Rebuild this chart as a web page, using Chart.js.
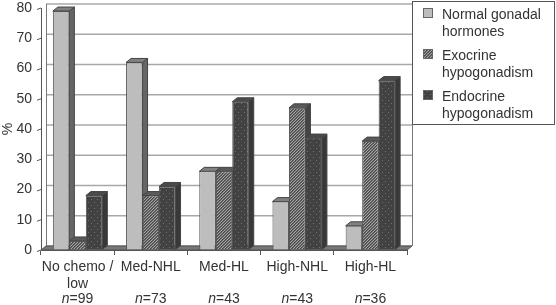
<!DOCTYPE html>
<html lang="en">
<head>
    <meta charset="UTF-8">
    <title>Gonadal function by treatment group</title>
    <script src="https://cdn.jsdelivr.net/npm/chart.js"></script>
    <style>
        body { margin: 0; background: #fff; }
        canvas { display: block; }
    </style>
</head>
<body>
    <canvas id="chart" width="556" height="305"></canvas>

    <script>
        const categories = [['No chemo /', 'low'], 'Med-NHL', 'Med-HL', 'High-NHL', 'High-HL'];
        const sampleSizes = [99, 73, 43, 43, 36];
        const normal = [79, 62, 26, 16, 8];
        const exocrine = [3, 18, 26, 47, 36];
        const endocrine = [18, 21, 49, 37, 56];
        const legendLabels = [
            ['Normal gonadal', 'hormones'],
            ['Exocrine', 'hypogonadism'],
            ['Endocrine', 'hypogonadism'],
        ];

        const FAMILY = '"Liberation Sans", Arial, sans-serif';
        const FONT = '14px ' + FAMILY;
        const TEXT = '#333';
        const DX = 5, DY = 4; // depth of the fake 3d

        function tile(size, draw) {
            const c = document.createElement('canvas');
            c.width = c.height = size;
            draw(c.getContext('2d'));
            return c.getContext('2d').createPattern(c, 'repeat');
        }

        const hatch = tile(3, g => {
            g.fillStyle = '#a6a6a6';
            g.fillRect(0, 0, 3, 3);
            g.fillStyle = '#4a4a4a';
            [[2, 0], [1, 1], [0, 2]].forEach(p => g.fillRect(p[0], p[1], 1, 1));
            g.fillStyle = '#666';
            [[0, 0], [2, 1], [1, 2]].forEach(p => g.fillRect(p[0], p[1], 1, 1));
        });
        const dots = tile(6, g => {
            g.fillStyle = '#424242';
            g.fillRect(0, 0, 6, 6);
            g.fillStyle = '#6e6e6e';
            g.fillRect(1, 1, 1, 1);
            g.fillRect(4, 4, 1, 1);
        });

        const styles = [
            { front: '#bdbdbd', side: '#666', top: '#808080' },
            { front: hatch, side: '#444', top: '#5a5a5a' },
            { front: dots, side: '#383838', top: '#4a4a4a' },
        ];

        function poly(ctx, pts, fill, stroke) {
            ctx.beginPath();
            pts.forEach((p, i) => i ? ctx.lineTo(p[0], p[1]) : ctx.moveTo(p[0], p[1]));
            ctx.closePath();
            if (fill) { ctx.fillStyle = fill; ctx.fill(); }
            if (stroke) { ctx.strokeStyle = stroke; ctx.lineWidth = 1; ctx.stroke(); }
        }

        const depthPlugin = {
            id: 'depth',
            beforeDatasetsDraw(chart) {
                const ctx = chart.ctx, a = chart.chartArea, y = chart.scales.y;
                ctx.save();
                // gridlines on the back wall, slanted ticks at the front
                y.ticks.forEach(t => {
                    const py = y.getPixelForValue(t.value);
                    ctx.strokeStyle = '#a8a8a8';
                    ctx.lineWidth = 1.4;
                    ctx.beginPath();
                    ctx.moveTo(a.left + DX, py - DY);
                    ctx.lineTo(a.right + DX, py - DY);
                    ctx.stroke();
                    ctx.strokeStyle = '#555';
                    ctx.lineWidth = 1;
                    ctx.beginPath();
                    ctx.moveTo(a.left - 4, py + 1.5);
                    ctx.lineTo(a.left, py);
                    ctx.stroke();
                });
                // walls
                ctx.strokeStyle = '#777';
                ctx.lineWidth = 1;
                ctx.beginPath();
                ctx.moveTo(a.left + DX + 0.5, a.top - DY);
                ctx.lineTo(a.left + DX + 0.5, a.bottom - DY);
                ctx.moveTo(a.right + DX + 0.5, a.top - DY);
                ctx.lineTo(a.right + DX + 0.5, a.bottom - DY);
                ctx.stroke();
                // floor
                poly(ctx, [[a.left, a.bottom], [a.left + DX, a.bottom - DY], [a.right + DX, a.bottom - DY], [a.right, a.bottom]], '#777', '#555');
                // sides and tops go under the fronts, in series order
                chart.data.datasets.forEach((ds, i) => {
                    chart.getDatasetMeta(i).data.forEach(bar => {
                        const l = bar.x - bar.width / 2, r = bar.x + bar.width / 2;
                        poly(ctx, [[r, bar.y], [r + DX, bar.y - DY], [r + DX, bar.base - DY], [r, bar.base]], styles[i].side, '#444');
                        poly(ctx, [[l, bar.y], [l + DX, bar.y - DY], [r + DX, bar.y - DY], [r, bar.y]], styles[i].top, '#444');
                    });
                });
                ctx.restore();
            },
            afterDraw(chart) {
                const ctx = chart.ctx, x = chart.scales.x;
                ctx.save();
                ctx.font = FONT;
                ctx.fillStyle = TEXT;
                ctx.textBaseline = 'alphabetic';
                ctx.textAlign = 'left';
                // italic n under each category
                sampleSizes.forEach((n, i) => {
                    const rest = '=' + n;
                    ctx.font = 'italic ' + FONT;
                    const w1 = ctx.measureText('n').width;
                    ctx.font = FONT;
                    const w2 = ctx.measureText(rest).width;
                    const start = x.getPixelForValue(i) - (w1 + w2) / 2;
                    ctx.font = 'italic ' + FONT;
                    ctx.fillText('n', start, 303);
                    ctx.font = FONT;
                    ctx.fillText(rest, start + w1, 303);
                });
                // legend box
                ctx.fillStyle = '#fff';
                ctx.fillRect(412, 1, 143, 124);
                ctx.strokeStyle = '#555';
                ctx.lineWidth = 1;
                ctx.strokeRect(412.5, 1.5, 142, 123);
                const lineY = [19, 36, 60, 77, 101, 118];
                legendLabels.forEach((lines, i) => {
                    const yy = 8 + i * 41;
                    ctx.fillStyle = '#666';
                    ctx.fillRect(423, yy, 10, 10);
                    ctx.fillStyle = styles[i].front;
                    ctx.fillRect(424, yy + 1, 8, 8);
                    ctx.fillStyle = TEXT;
                    lines.forEach((s, j) => ctx.fillText(s, 442, lineY[i * 2 + j]));
                });
                ctx.restore();
            },
        };

        new Chart(document.getElementById('chart'), {
            type: 'bar',
            data: {
                labels: categories,
                datasets: [normal, exocrine, endocrine].map((values, i) => ({
                    data: values,
                    backgroundColor: styles[i].front,
                    borderColor: '#555',
                    borderWidth: 1,
                    categoryPercentage: 0.676,
                    barPercentage: 1,
                })),
            },
            options: {
                responsive: false,
                animation: false,
                layout: { padding: { top: 8, right: 149, bottom: 0, left: 0 } },
                plugins: { legend: { display: false }, tooltip: { enabled: false } },
                scales: {
                    x: {
                        afterFit: s => { s.height = 55; },
                        grid: { offset: true, drawOnChartArea: false, color: '#555', tickLength: 5 },
                        border: { color: '#555' },
                        ticks: {
                            autoSkip: false, maxRotation: 0, minRotation: 0, padding: 4,
                            color: TEXT, font: { family: FAMILY, size: 14 },
                        },
                    },
                    y: {
                        min: 0, max: 80,
                        afterFit: s => { s.width = 41; s.paddingTop = 0; s.paddingBottom = 0; },
                        grid: { drawOnChartArea: false, drawTicks: false },
                        border: { color: '#555' },
                        title: {
                            display: true, text: '%', color: TEXT, padding: 0,
                            font: { family: FAMILY, size: 14 },
                        },
                        ticks: {
                            stepSize: 10, padding: 9, color: TEXT,
                            font: { family: FAMILY, size: 14 },
                        },
                    },
                },
            },
            plugins: [depthPlugin],
        });
    </script>
</body>
</html>
